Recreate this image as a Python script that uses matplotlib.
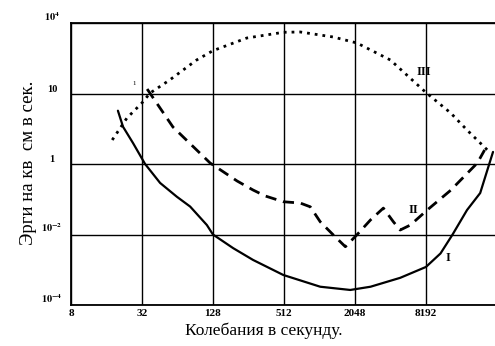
import matplotlib
matplotlib.use("Agg")
import matplotlib.pyplot as plt

plt.rcParams["font.family"] = ["Liberation Serif", "DejaVu Serif"]
plt.rcParams["mathtext.fontset"] = "stix"

# curve I - threshold of hearing
freq_1 = [20, 22.1, 26.9, 34, 45.6, 63.2, 82, 113.6, 128, 190, 280, 506, 1040, 1870, 2780,
          4960, 8200, 10900, 13800, 18300, 23660, 30400]
energy_1 = [32.5, 11.4, 3.9, 1.0, 0.29, 0.118, 0.062, 0.0186, 0.01, 0.0041, 0.0019, 7.1e-4,
            3.3e-4, 2.67e-4, 3.3e-4, 5.9e-4, 1.2e-3, 2.9e-3, 0.01, 0.0495, 0.15, 2.2]

# curve II
freq_2 = [35.4, 58.6, 121, 205, 280, 355, 506, 704, 857, 1040, 1340, 1700, 2130, 2780, 3570,
          4340, 4960, 6060, 8440, 13300, 22400, 25800]
energy_2 = [134, 11.2, 1.07, 0.33, 0.183, 0.124, 0.085, 0.078, 0.061, 0.023, 0.0098, 0.0045,
            0.0098, 0.026, 0.056, 0.023, 0.0134, 0.0186, 0.050, 0.18, 1.07, 2.5]

# curve III
freq_3 = [17.9, 23.8, 32, 37.5, 55, 93, 128, 248, 506, 704, 1340, 2130, 4096, 8192,
          13300, 18300, 27200]
energy_3 = [4.8, 20, 54, 103, 242, 891, 1640, 3750, 5450, 5560, 4010, 2710, 891, 107,
            28, 9.2, 2.5]

x_ticks = [8, 32, 128, 512, 2048, 8192]
y_ticks = [1e-4, 1e-2, 1, 1e2, 1e4]
y_tick_labels = ["$\\mathbf{10^{-4}}$", "$\\mathbf{10^{-2}}$", "1", "10", "$\\mathbf{10^{4}}$"]

fig = plt.figure(figsize=(4.95, 3.46), dpi=100)
ax = fig.add_axes([71 / 495, 41 / 346, 424 / 495, 282 / 346])

ax.plot(freq_1, energy_1, color="black", lw=1.6, solid_capstyle="round")
ax.plot(freq_2, energy_2, color="black", lw=2.0, dashes=(4, 2.5))
ax.plot(freq_3, energy_3, color="black", lw=2.0, dashes=(1, 1.8))

ax.set_xscale("log", base=2)
ax.set_yscale("log")
ax.set_xlim(8, 31600)
ax.set_ylim(1e-4, 1e4)

ax.set_xticks(x_ticks)
ax.set_xticklabels([str(t) for t in x_ticks], fontsize=8, fontweight="bold")
ax.xaxis.set_minor_locator(matplotlib.ticker.NullLocator())
ax.yaxis.set_minor_locator(matplotlib.ticker.NullLocator())
ax.set_yticks(y_ticks)
ax.set_yticklabels([])
ax.tick_params(length=0, pad=3)

for val, lab in zip(y_ticks, y_tick_labels):
    ax.text(-0.045, val, lab, transform=ax.get_yaxis_transform(), ha="center",
            va="bottom", fontsize=7.5, fontweight="bold")

ax.grid(True, color="black", lw=1.0)
for side in ["top", "left", "bottom"]:
    ax.spines[side].set_linewidth(1.3)
ax.spines["right"].set_visible(False)

ax.text(7800, 275, "III", fontsize=9, fontweight="bold", ha="center", va="bottom")
ax.text(6060 * 1.05, 0.0335, "II", fontsize=9, fontweight="bold", ha="center", va="bottom")
ax.text(12500, 1.45e-3, "I", fontsize=9, fontweight="bold", ha="center", va="bottom")
ax.text(27.4, 162, "1", fontsize=5, ha="center", va="bottom")

fig.text(264 / 495, 1 - 331 / 346, "Колебания в секунду.", ha="center", va="center",
         fontsize=12.5)
fig.text(29 / 495, 1 - 163 / 346, "Эрги на кв  см в сек.", rotation=90,
         ha="center", va="center", fontsize=13.5)

fig.savefig("out.png", dpi=100)
